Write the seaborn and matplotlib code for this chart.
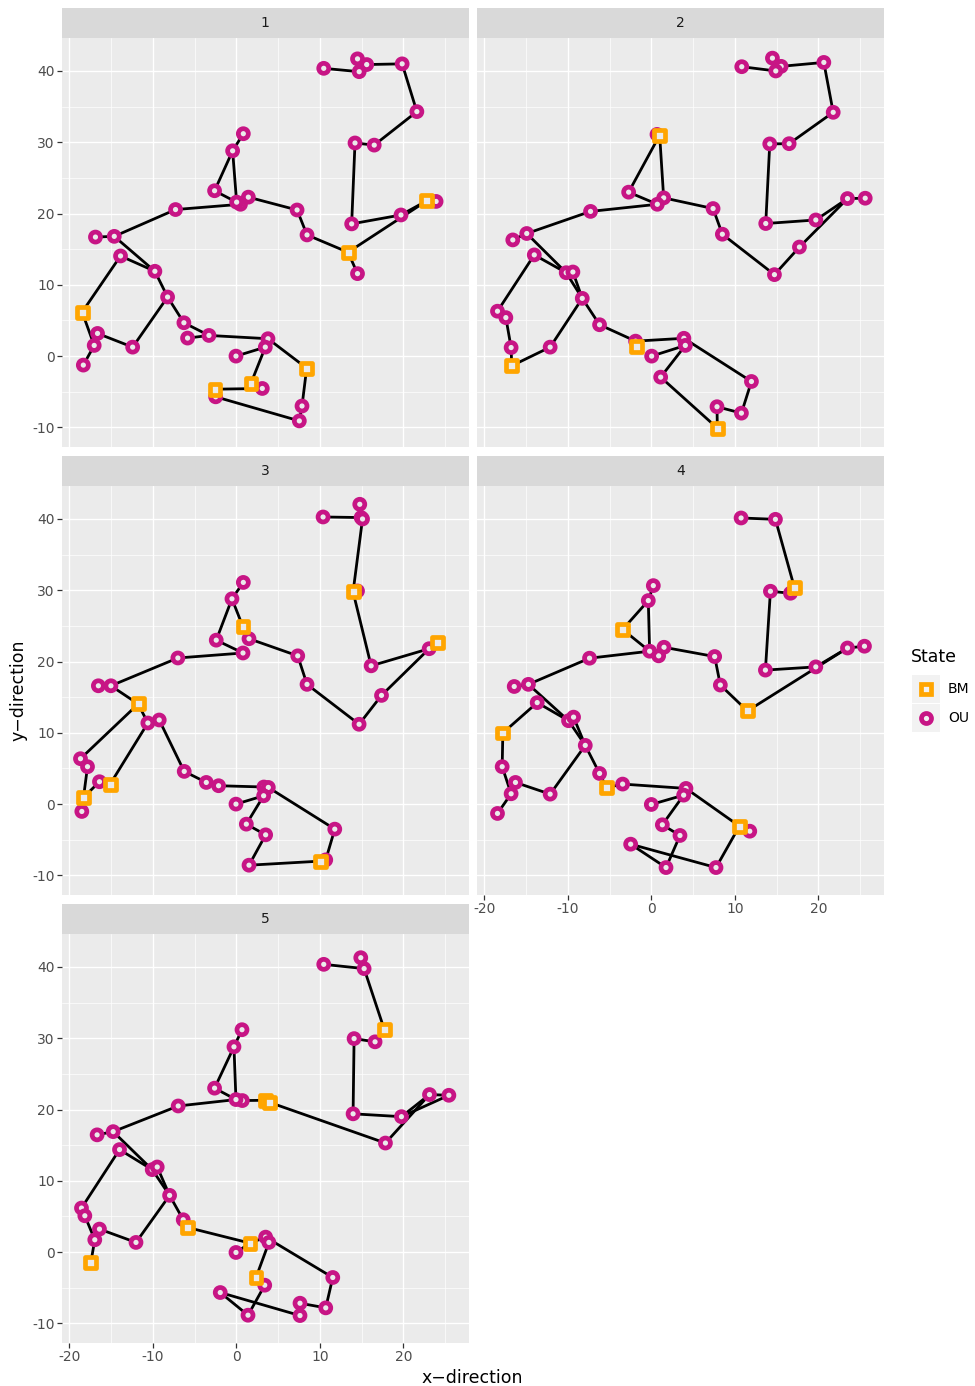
import numpy as np
import pandas as pd
import matplotlib
matplotlib.use("Agg")
import matplotlib.pyplot as plt
import seaborn as sns
from matplotlib.patches import Rectangle

# ---------------------------------------------------------------------------
# Node positions of the five simulated maps, the nodes in the BM state,
# and the branches (index pairs) joining the nodes.
# ---------------------------------------------------------------------------
P1_X = [10.46, 14.5, 15.6, 14.7, 19.84, 21.6, 14.2, 16.5, 13.8, 19.7, 22.8, 23.9,
        13.37, 14.5, 8.46, 7.27, 1.44, 0.5, 0.04, -0.44, 0.84, -2.6, -7.27, -14.6,
        -16.85, -13.85, -9.74, -8.22, -18.44, -16.6, -17.0, -18.3, -12.4, -6.27,
        -5.83, -3.27, 3.79, 3.47, -0.04, 8.42, 7.86, 7.54, -2.55, -2.47, 1.76, 3.11]
P1_Y = [40.37, 41.7, 40.9, 39.9, 41.0, 34.3, 29.9, 29.6, 18.55, 19.8, 21.8, 21.7,
        14.57, 11.57, 17.0, 20.5, 22.3, 21.3, 21.6, 28.8, 31.2, 23.2, 20.56, 16.8,
        16.7, 14.05, 11.9, 8.29, 6.18, 3.18, 1.5, -1.26, 1.26, 4.68,
        2.53, 2.9, 2.44, 1.26, 0.0, -1.69, -7.0, -9.09, -4.64, -5.71, -3.79, -4.54]
P1_BM = [10, 12, 28, 39, 42, 44]
P1_EDGES = [(0, 3), (1, 2), (2, 3), (2, 4), (4, 5), (5, 7), (6, 7), (6, 8), (8, 9),
            (9, 10), (10, 11), (10, 12), (12, 13), (12, 14), (14, 15), (15, 16),
            (16, 17), (17, 18), (18, 19), (19, 20), (19, 21), (21, 17), (17, 22),
            (22, 23), (23, 24), (23, 26), (25, 26), (25, 28), (28, 30), (29, 30),
            (30, 31), (29, 32), (32, 27), (27, 26), (27, 33), (33, 35), (34, 35),
            (35, 36), (36, 37), (37, 38), (37, 44), (44, 45), (42, 45), (42, 43),
            (43, 41), (41, 40), (40, 39), (39, 36)]

P2_X = [10.82, 14.49, 15.53, 14.89, 20.64, 21.76, 14.17, 16.49, 13.69, 19.68, 23.47,
        25.59, 17.72, 14.73, 8.5, 7.39, 1.48, 0.72, 0.68, 1.0, -2.71, -7.27, -14.9,
        -16.57, -14.0, -10.18, -9.38, -8.26, -18.4, -17.4, -16.77, -16.7, -12.1,
        -6.19, -1.88, -1.8, 0.04, 3.9, 4.07, 1.12, 11.98, 10.78, 7.86, 7.9]
P2_Y = [40.6, 41.8, 40.65, 40.0, 41.2, 34.2, 29.77, 29.8, 18.6, 19.1, 22.1,
        22.15, 15.3, 11.43, 17.1, 20.7, 22.2, 21.3, 31.1, 31.0, 23.0, 20.3, 17.2,
        16.3, 14.2, 11.7, 11.8, 8.1, 6.3, 5.4, 1.2, -1.36, 1.26,
        4.4, 2.1, 1.4, 0.0, 2.5, 1.5, -2.95, -3.56, -8.0, -7.1, -10.1]
P2_BM = [19, 31, 35, 43]
P2_EDGES = [(0, 3), (1, 2), (2, 3), (2, 4), (4, 5), (5, 7), (6, 7), (6, 8), (8, 9),
            (9, 10), (10, 11), (12, 10), (12, 13), (13, 14), (14, 15), (15, 16),
            (16, 17), (16, 19), (18, 19), (19, 20), (20, 17), (17, 21), (21, 22),
            (22, 23), (22, 25), (24, 25), (24, 28), (28, 29), (29, 30), (30, 31),
            (31, 32), (32, 27), (27, 25), (27, 26), (27, 33), (33, 34), (34, 35),
            (34, 37), (37, 38), (38, 36), (38, 39), (39, 43), (43, 42), (42, 41),
            (41, 40), (40, 37)]

P3_X = [10.38, 14.77, 14.93, 15.1, 14.5, 13.97, 16.13, 23.07, 24.1, 17.37, 14.69,
        8.46, 7.35, 1.52, 0.8, 0.84, -0.52, -2.4, 0.8, -6.99, -15.0, -16.5, -11.74,
        -10.58, -9.22, -18.64, -17.8, -18.28, -18.48, -16.37, -15.09, -6.23, -3.59,
        -2.12, 3.3, 3.83, 3.27, -0.04, 1.2, 3.51, 1.52, 10.7, 10.02, 11.78]
P3_Y = [40.28, 42.06, 40.2, 40.0, 29.9, 29.77, 19.4, 21.8, 22.66, 15.25, 11.2,
        16.8, 20.8, 23.2, 24.86, 31.1, 28.8, 23.0, 21.2, 20.5, 16.6, 16.6, 14.05,
        11.38, 11.8, 6.37, 5.25, 0.94, -1.03, 3.14, 2.81, 4.59, 3.04,
        2.58, 2.4, 2.34, 1.17, 0.0, -2.81, -4.31, -8.57, -7.82, -8.0, -3.51]
P3_BM = [5, 8, 14, 22, 27, 30, 42]
P3_EDGES = [(0, 2), (1, 2), (2, 3), (3, 5), (4, 5), (5, 6), (6, 7), (7, 8), (7, 9),
            (9, 10), (10, 11), (11, 12), (12, 13), (13, 14), (14, 16), (15, 16),
            (16, 17), (17, 18), (18, 19), (19, 20), (20, 21), (20, 22), (22, 23),
            (23, 24), (22, 25), (25, 26), (26, 27), (27, 28), (27, 29), (29, 30),
            (30, 23), (24, 31), (31, 32), (32, 33), (33, 34), (34, 36), (36, 37),
            (36, 38), (38, 39), (39, 40), (40, 42), (42, 41), (41, 43), (43, 35)]

P4_X = [10.74, 14.85, 16.65, 17.13, 14.25, 13.65, 19.68, 23.47, 25.5, 11.5, 8.26,
        7.58, 1.52, 0.88, -0.2, -0.36, 0.24, -3.43, -7.39, -14.7, -16.4, -13.65,
        -9.9, -9.3, -7.9, -17.76, -17.84, -16.25, -16.77, -18.4, -12.1, -6.19,
        -5.35, -3.43, 4.15, 3.87, 0.0, 1.32, 3.43, 1.76, -2.47, 7.74, 10.54, 11.78]
P4_Y = [40.14, 39.95, 29.58, 30.33, 29.86, 18.8, 19.25, 21.9, 22.15, 13.07, 16.7,
        20.7, 22.0, 20.8, 21.45, 28.55, 30.65, 24.5, 20.47, 16.8, 16.5, 14.24,
        11.7, 12.2, 8.24, 9.98, 5.25, 3.04, 1.45, -1.31, 1.4, 4.3,
        2.3, 2.81, 2.2, 1.26, -0.05, -2.9, -4.4, -8.9, -5.62, -8.9, -3.09, -3.8]
P4_BM = [3, 9, 17, 25, 32, 42]
P4_EDGES = [(0, 1), (1, 3), (3, 2), (2, 4), (4, 5), (5, 6), (6, 7), (7, 8), (9, 7),
            (9, 10), (10, 11), (11, 12), (12, 13), (13, 14), (14, 15), (15, 16),
            (15, 17), (17, 14), (14, 18), (18, 19), (19, 20), (19, 22), (21, 22),
            (21, 25), (25, 26), (26, 28), (27, 28), (28, 29), (27, 30), (30, 24),
            (24, 23), (24, 22), (24, 31), (31, 32), (32, 33), (33, 34), (34, 35),
            (35, 36), (35, 37), (37, 38), (38, 39), (39, 40), (40, 41), (41, 42),
            (42, 43), (42, 34)]

P5_X = [10.46, 14.89, 15.29, 17.72, 16.6, 14.09, 13.97, 19.76, 23.11, 25.43, 17.84,
        3.5, 4.0, 0.72, -0.04, -0.28, 0.68, -2.6, -6.95, -14.73, -16.65, -13.97,
        -10.06, -9.46, -7.98, -18.52, -18.12, -16.37, -16.93, -17.4, -12.0, -6.35,
        -5.87, 1.64, -0.04, 3.51, 3.9, 2.36, 3.4, 1.4, -1.92, 7.62, 7.62, 10.7, 11.54]
P5_Y = [40.37, 41.3, 39.77, 31.17, 29.5, 29.95, 19.4, 19.0, 22.1, 22.0, 15.3,
        21.3, 21.0, 21.26, 21.4, 28.8, 31.2, 23.0, 20.5, 16.9, 16.45, 14.38,
        11.57, 11.94, 7.96, 6.18, 5.1, 3.23, 1.73, -1.45, 1.36, 4.54,
        3.47, 1.26, -0.05, 2.1, 1.36, -3.56, -4.64, -8.85, -5.67, -8.9, -7.17, -7.82, -3.56]
P5_BM = [3, 11, 12, 29, 32, 33, 37]
P5_EDGES = [(0, 2), (1, 2), (2, 3), (3, 4), (4, 5), (5, 6), (6, 7), (7, 8), (7, 9),
            (8, 9), (8, 10), (10, 12), (11, 12), (11, 13), (13, 14), (14, 15),
            (15, 16), (15, 17), (17, 14), (14, 18), (18, 19), (19, 20), (19, 22),
            (21, 22), (21, 25), (25, 26), (26, 28), (27, 28), (28, 29), (27, 30),
            (30, 24), (24, 22), (24, 23), (24, 31), (31, 32), (32, 33), (33, 34),
            (33, 35), (35, 36), (36, 37), (37, 38), (38, 39), (39, 40), (40, 41),
            (41, 42), (42, 43), (43, 44), (44, 35)]

PANELS = ["1", "2", "3", "4", "5"]
STATES = ["BM", "OU"]
PALETTE = {"BM": "#FFA500", "OU": "#C71585"}
MARKERS = {"BM": "s", "OU": "o"}
SIZES = {"BM": 62, "OU": 52}

X_MAJOR = [-20, -10, 0, 10, 20]
X_MINOR = [-15, -5, 5, 15, 25]
Y_MAJOR = [-10, 0, 10, 20, 30, 40]
Y_MINOR = [-5, 5, 15, 25, 35]

# ---------------------------------------------------------------------------
# Tidy tables: one for the nodes, one for the branch segments
# ---------------------------------------------------------------------------
node_frames, seg_frames = [], []
for name, xs, ys, bm, edges in [
        ("1", P1_X, P1_Y, P1_BM, P1_EDGES),
        ("2", P2_X, P2_Y, P2_BM, P2_EDGES),
        ("3", P3_X, P3_Y, P3_BM, P3_EDGES),
        ("4", P4_X, P4_Y, P4_BM, P4_EDGES),
        ("5", P5_X, P5_Y, P5_BM, P5_EDGES)]:
    assert len(xs) == len(ys)
    state = ["BM" if i in bm else "OU" for i in range(len(xs))]
    node_frames.append(pd.DataFrame({"panel": name, "x": xs, "y": ys, "State": state}))
    rows = []
    for k, (a, b) in enumerate(edges):
        rows.append((name, k, xs[a], ys[a]))
        rows.append((name, k, xs[b], ys[b]))
    seg_frames.append(pd.DataFrame(rows, columns=["panel", "seg", "x", "y"]))
nodes = pd.concat(node_frames, ignore_index=True)
segments = pd.concat(seg_frames, ignore_index=True)

# shared scale with 5 % padding, as ggplot does
def padded(v):
    lo, hi = v.min(), v.max()
    pad = (hi - lo) * 0.05
    return lo - pad, hi + pad

XLIM = padded(nodes["x"])
YLIM = padded(nodes["y"])

# ---------------------------------------------------------------------------
# Figure
# ---------------------------------------------------------------------------
sns.set_theme(style="darkgrid")
plt.rcParams["font.family"] = ["DejaVu Sans"]
plt.rcParams["axes.unicode_minus"] = False

W, H = 975, 1386
fig = plt.figure(figsize=(W / 100, H / 100), dpi=100)
fig.patch.set_facecolor("white")

BG = "#EBEBEB"
STRIP = "#D9D9D9"
TICK_C = "#4D4D4D"


def px_axes(x0, y0, x1, y1):
    return fig.add_axes([x0 / W, 1 - y1 / H, (x1 - x0) / W, (y1 - y0) / H])


COL_LEFT = [62, 477]
PANEL_W = 406.7
ROW_TOP = [37.7, 485.7, 933.7]
PANEL_H = 409.0
STRIP_H = 30.0

for idx, name in enumerate(PANELS):
    r, c = divmod(idx, 2)
    x0, y0 = COL_LEFT[c], ROW_TOP[r]
    ax = px_axes(x0, y0, x0 + PANEL_W, y0 + PANEL_H)

    sns.lineplot(data=segments[segments["panel"] == name], x="x", y="y",
                 units="seg", estimator=None, sort=False, color="black",
                 linewidth=2.0, legend=False, ax=ax, zorder=2)

    pts = nodes[nodes["panel"] == name]
    pts = pts.iloc[np.argsort((pts["State"] == "BM").to_numpy(), kind="stable")]
    sns.scatterplot(data=pts, x="x", y="y", hue="State", style="State", size="State",
                    hue_order=STATES, style_order=STATES, size_order=STATES,
                    palette=PALETTE, markers=MARKERS, sizes=SIZES,
                    linewidth=3.4, legend=False, ax=ax, zorder=3)
    coll = ax.collections[-1]
    coll.set_edgecolors(coll.get_facecolors())
    coll.set_facecolors(BG)

    ax.set_xlim(XLIM)
    ax.set_ylim(YLIM)
    ax.set_facecolor(BG)
    ax.set_axisbelow(True)
    ax.set_xticks(X_MAJOR)
    ax.set_xticks(X_MINOR, minor=True)
    ax.set_yticks(Y_MAJOR)
    ax.set_yticks(Y_MINOR, minor=True)
    ax.grid(which="major", color="white", linewidth=1.0)
    ax.grid(which="minor", color="white", linewidth=0.5)
    for s in ax.spines.values():
        s.set_visible(False)
    ax.set_xlabel("")
    ax.set_ylabel("")
    ax.tick_params(which="minor", length=0)
    ax.tick_params(which="major", length=3.3, width=0.9, color="#333333",
                   labelsize=10, labelcolor=TICK_C, pad=2)

    show_x = name in ("4", "5")
    show_y = c == 0
    ax.tick_params(axis="x", bottom=show_x, labelbottom=show_x)
    ax.tick_params(axis="y", left=show_y, labelleft=show_y)

    # facet strip
    sax = px_axes(x0, y0 - STRIP_H, x0 + PANEL_W, y0)
    sax.set_facecolor(STRIP)
    sax.set_xticks([])
    sax.set_yticks([])
    sax.grid(False)
    for s in sax.spines.values():
        s.set_visible(False)
    sax.text(0.5, 0.5, name, ha="center", va="center", fontsize=10,
             color="#1A1A1A", transform=sax.transAxes)

# axis titles
fig.text(472 / W, 1 - 1378 / H, "x\u2212direction", ha="center", va="center",
         fontsize=12.5, color="black")
fig.text(18 / W, 1 - 690 / H, "y\u2212direction", ha="center", va="center",
         rotation=90, fontsize=12.5, color="black")

# legend
lax = px_axes(900, 640, 975, 740)
lax.set_xlim(900, 975)
lax.set_ylim(740, 640)
lax.axis("off")
lax.text(911, 657, "State", ha="left", va="center", fontsize=12.5, color="black")
for k, st in enumerate(STATES):
    ky = 675 + 29 * k
    lax.add_patch(Rectangle((912, ky), 28, 28, facecolor="#F2F2F2", edgecolor="none"))
    lax.plot([926], [ky + 14], linestyle="none", marker=MARKERS[st],
             markersize=np.sqrt(SIZES[st]), markeredgewidth=3.4,
             markeredgecolor=PALETTE[st], markerfacecolor="#F2F2F2")
    lax.text(948, ky + 14, st, ha="left", va="center", fontsize=10, color="black")

fig.savefig("out.png", dpi=100)
